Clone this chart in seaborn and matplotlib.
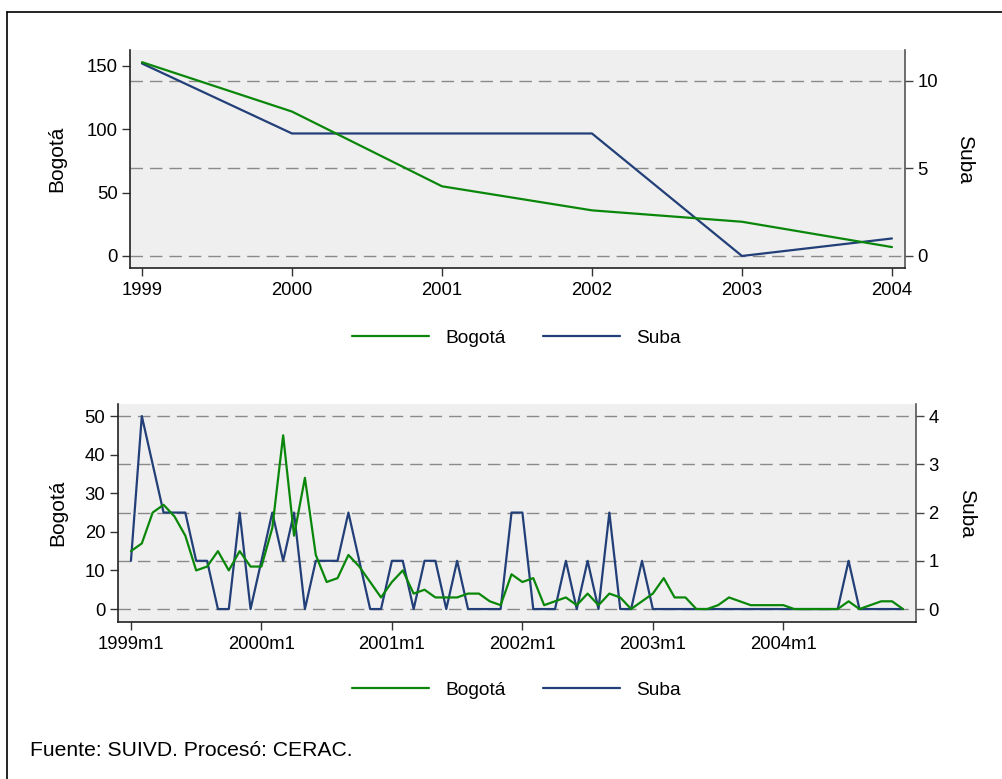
import numpy as np
import pandas as pd
import matplotlib
matplotlib.use("Agg")
import matplotlib.pyplot as plt
from matplotlib.lines import Line2D
import seaborn as sns

# Annual counts
anios = [1999, 2000, 2001, 2002, 2003, 2004]
bogota_anual = [153, 114, 55, 36, 27, 7]
suba_anual = [11, 7, 7, 7, 0, 1]

# Monthly counts, 1999m1 .. 2004m12
bogota_mes = [15, 17, 25, 27, 24, 19, 10, 11, 15, 10, 15, 11,
              11, 21, 45, 19, 34, 14, 7, 8, 14, 11, 7, 3,
              7, 10, 4, 5, 3, 3, 3, 4, 4, 2, 1, 9,
              7, 8, 1, 2, 3, 1, 4, 1, 4, 3, 0, 2,
              4, 8, 3, 3, 0, 0, 1, 3, 2, 1, 1, 1,
              1, 0, 0, 0, 0, 0, 2, 0, 1, 2, 2, 0]
suba_mes = [1, 4, 3, 2, 2, 2, 1, 1, 0, 0, 2, 0,
            1, 2, 1, 2, 0, 1, 1, 1, 2, 1, 0, 0,
            1, 1, 0, 1, 1, 0, 1, 0, 0, 0, 0, 2,
            2, 0, 0, 0, 1, 0, 1, 0, 2, 0, 0, 1,
            0, 0, 0, 0, 0, 0, 0, 0, 0, 0, 0, 0,
            0, 0, 0, 0, 0, 0, 1, 0, 0, 0, 0, 0]
mes_ticks = [0, 12, 24, 36, 48, 60]
mes_labels = ["1999m1", "2000m1", "2001m1", "2002m1", "2003m1", "2004m1"]

sns.set_style("white")
plt.rcParams["font.family"] = ["Liberation Sans", "DejaVu Sans"]
plt.rcParams["text.color"] = "black"
plt.rcParams["axes.labelcolor"] = "black"
plt.rcParams["xtick.labelcolor"] = "black"
plt.rcParams["ytick.labelcolor"] = "black"

VERDE = "#0a870a"
AZUL = "#223f78"
FONDO = "#efefef"
REJILLA = "#8a8a8a"
FS_TICK = 13.3
FS_LEG = 13.8
FS_TIT = 15.0
FS_NOTA = 15.2

df_anual = pd.DataFrame({"anio": anios, "Bogotá": bogota_anual, "Suba": suba_anual})
df_mes = pd.DataFrame({"mes": np.arange(len(bogota_mes)), "Bogotá": bogota_mes, "Suba": suba_mes})

fig = plt.figure(figsize=(10.03, 7.79), dpi=100)


def panel(rect, df, xcol, xlim, ylim_b, ylim_s, yt_b, yt_s, xt, xtl, lab_b_x, lab_s_x):
    ax = fig.add_axes(rect)          # Suba scale (right), carries the grid
    axb = ax.twinx()                 # Bogotá scale (left)
    ax.set_facecolor(FONDO)
    axb.patch.set_visible(False)

    sns.lineplot(data=df, x=xcol, y="Suba", ax=ax, color=AZUL, lw=1.6)
    sns.lineplot(data=df, x=xcol, y="Bogotá", ax=axb, color=VERDE, lw=1.6)

    ax.set_xlim(*xlim)
    ax.set_ylim(*ylim_s)
    axb.set_ylim(*ylim_b)

    ax.yaxis.tick_right()
    ax.yaxis.set_label_position("right")
    axb.yaxis.tick_left()
    axb.yaxis.set_label_position("left")

    ax.set_yticks(yt_s)
    axb.set_yticks(yt_b)
    ax.set_xticks(xt)
    ax.set_xticklabels(xtl)

    ax.grid(axis="y", color=REJILLA, lw=1.0, linestyle=(0, (9, 5)))
    ax.grid(axis="x", visible=False)
    ax.set_axisbelow(True)

    for s in ["top", "left"]:
        ax.spines[s].set_visible(False)
    ax.spines["right"].set_color("#555555")
    ax.spines["bottom"].set_color("#222222")
    for s in ["top", "right", "bottom"]:
        axb.spines[s].set_visible(False)
    axb.spines["left"].set_color("#222222")
    for sp in list(ax.spines.values()) + list(axb.spines.values()):
        sp.set_linewidth(1.2)

    ax.tick_params(axis="x", length=6, width=1.0, color="#333333", pad=4,
                   labelsize=FS_TICK, bottom=True)
    ax.tick_params(axis="y", length=6, width=1.0, color="#444444", pad=3,
                   labelsize=FS_TICK, right=True)
    axb.tick_params(axis="y", length=6, width=1.0, color="#333333", pad=3,
                    labelsize=FS_TICK, left=True)

    ax.set_xlabel("")
    axb.set_ylabel("Bogotá", fontsize=FS_TIT, rotation=90)
    ax.set_ylabel("Suba", fontsize=FS_TIT, rotation=270, va="center")
    axb.yaxis.set_label_coords(lab_b_x, 0.5)
    ax.yaxis.set_label_coords(lab_s_x, 0.5)
    return ax, axb


ax1, ax1b = panel([0.1296, 0.6560, 0.7727, 0.2798], df_anual, "anio",
                  (1998.92, 2004.087), (-9.5, 162.6), (-0.686, 11.77),
                  [0, 50, 100, 150], [0, 5, 10], anios, [str(a) for a in anios],
                  -0.0816, 1.077)

ax2, ax2b = panel([0.1176, 0.2015, 0.7956, 0.2798], df_mes, "mes",
                  (-1.195, 72.195), (-3.37, 53.1), (-0.269, 4.249),
                  [0, 10, 20, 30, 40, 50], [0, 1, 2, 3, 4], mes_ticks, mes_labels,
                  -0.064, 1.063)

handles = [Line2D([], [], color=VERDE, lw=1.6), Line2D([], [], color=AZUL, lw=1.6)]
for ycen in (0.566, 0.1143):
    fig.legend(handles, ["Bogotá", "Suba"], loc="center", bbox_to_anchor=(0.515, ycen),
               ncol=2, frameon=False, fontsize=FS_LEG, handlelength=4.0,
               handletextpad=0.83, columnspacing=1.98)

fig.text(0.0299, 0.036, "Fuente: SUIVD. Procesó: CERAC.", fontsize=FS_NOTA,
         ha="left", va="center")

# outer frame (top and left edges)
fig.add_artist(Line2D([7 / 1003, 1.0], [1 - 12 / 779, 1 - 12 / 779],
                      transform=fig.transFigure, color="black", lw=1.2))
fig.add_artist(Line2D([7 / 1003, 7 / 1003], [0.0, 1 - 12 / 779],
                      transform=fig.transFigure, color="black", lw=1.2))

fig.savefig("out.png", dpi=100)
